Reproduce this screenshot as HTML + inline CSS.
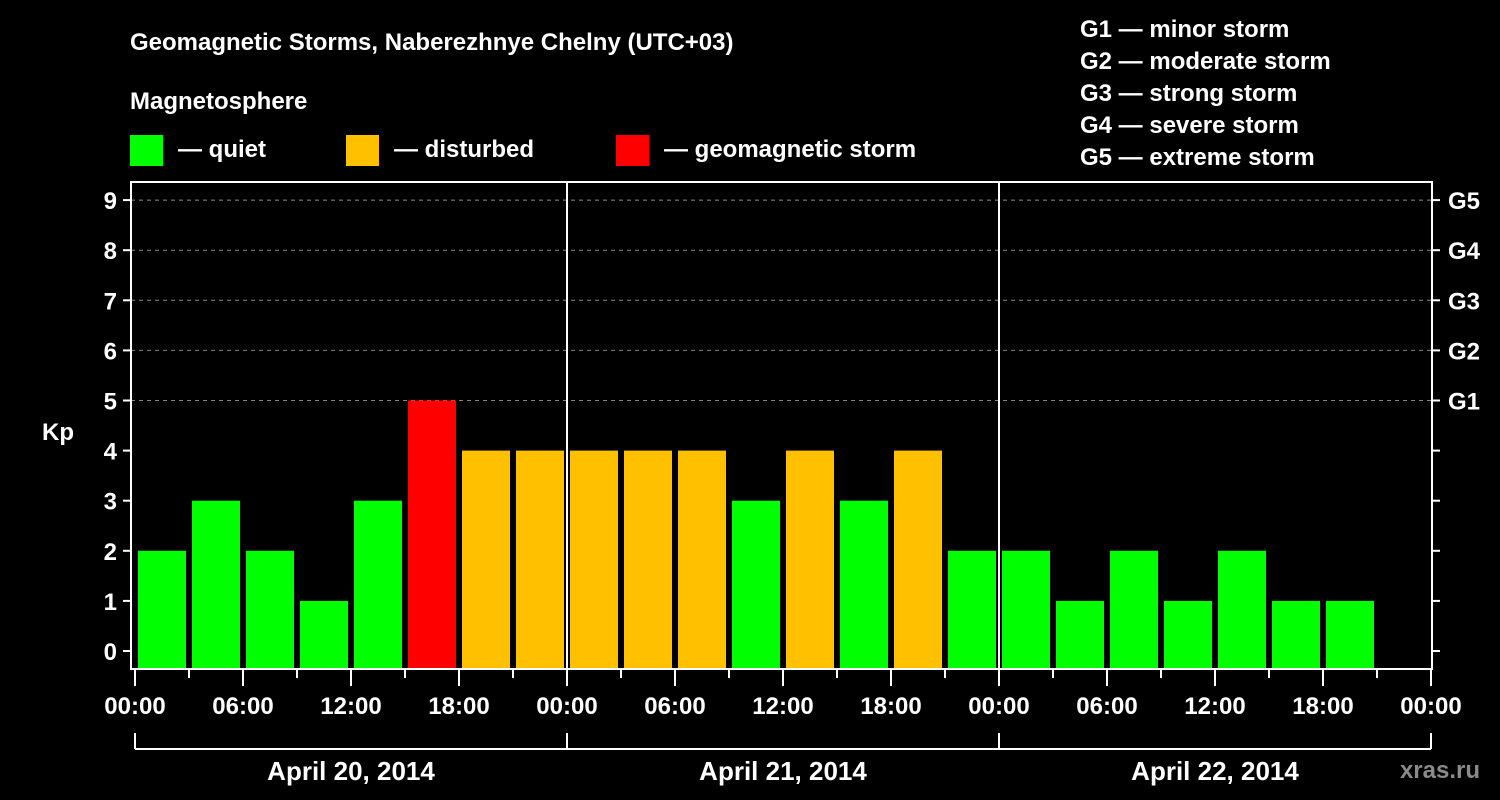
<!DOCTYPE html>
<html><head><meta charset="utf-8"><style>
body{margin:0;background:#000;width:1500px;height:800px;overflow:hidden}
svg{display:block}
text{font-family:"Liberation Sans",Arial,sans-serif;font-weight:bold;fill:#fff}
</style></head><body>
<svg id="c" width="1500" height="800" viewBox="0 0 1500 800">
<text x="130" y="50" font-size="24">Geomagnetic Storms, Naberezhnye Chelny (UTC+03)</text>
<text x="130" y="109" font-size="24">Magnetosphere</text>
<g><rect x="130" y="135" width="33" height="31" fill="#00ff00"/><text x="178" y="157" font-size="24">— quiet</text></g>
<g><rect x="346" y="135" width="33" height="31" fill="#ffc000"/><text x="394" y="157" font-size="24">— disturbed</text></g>
<g><rect x="616" y="135" width="33" height="31" fill="#ff0000"/><text x="664" y="157" font-size="24">— geomagnetic storm</text></g>
<g font-size="24">
<text x="1080" y="37">G1 — minor storm</text>
<text x="1080" y="69">G2 — moderate storm</text>
<text x="1080" y="101">G3 — strong storm</text>
<text x="1080" y="133">G4 — severe storm</text>
<text x="1080" y="165">G5 — extreme storm</text>
</g>
<text x="42" y="440" font-size="24">Kp</text>
<text x="1480" y="778" font-size="24" text-anchor="end" fill="#888" style="fill:#8a8a8a">xras.ru</text>
<g id="grid"></g><g id="bars"></g><g id="axes"></g>
</svg>
<script>
const kpValues=[2,3,2,1,3,5,4,4, 4,4,4,3,4,3,4,2, 2,1,2,1,2,1,1];
const yTicks=[0,1,2,3,4,5,6,7,8,9];
const gLabels=["G1","G2","G3","G4","G5"];
const xLabels=["00:00","06:00","12:00","18:00","00:00","06:00","12:00","18:00","00:00","06:00","12:00","18:00","00:00"];
const dayLabels=["April 20, 2014","April 21, 2014","April 22, 2014"];
const NS="http://www.w3.org/2000/svg";
const L=131,R=1432,T=182,B=669,X0=135,DAY=432;
const y=v=>651-50.1*v;
const x=h=>X0+h*DAY/24;
function mk(p,tag,a){const e=document.createElementNS(NS,tag);for(const k in a)e.setAttribute(k,a[k]);p.appendChild(e);return e;}
const grid=document.getElementById('grid'),bars=document.getElementById('bars'),axes=document.getElementById('axes');
for(let v=5;v<=9;v++){const l=mk(grid,'line',{x1:L,x2:R,y1:y(v),y2:y(v),stroke:'#888','stroke-dasharray':'4,4','stroke-width':1});

}
kpValues.forEach((v,i)=>{const c=v>=5?'#ff0000':v>=4?'#ffc000':'#00ff00';
const r=mk(bars,'rect',{x:x(i*3)+3,y:y(v),width:48,height:B-y(v),fill:c});

});
const f=mk(axes,'rect',{x:L,y:T,width:R-L,height:B-T,fill:'none',stroke:'#fff','stroke-width':2});


for(let d=1;d<3;d++){const l=mk(axes,'line',{x1:x(24*d),x2:x(24*d),y1:T,y2:B,stroke:'#fff','stroke-width':2});

}
yTicks.forEach(v=>{mk(axes,'line',{x1:L-8,x2:L,y1:y(v),y2:y(v),stroke:'#fff','stroke-width':2});
mk(axes,'line',{x1:R,x2:R+8,y1:y(v),y2:y(v),stroke:'#fff','stroke-width':2});
const t=mk(axes,'text',{x:L-14,y:y(v)+9,'font-size':24,'text-anchor':'end'});t.textContent=v;

});
gLabels.forEach((g,i)=>{const t=mk(axes,'text',{x:1448,y:y(5+i)+9,'font-size':24});t.textContent=g;

});
for(let k=0;k<=24;k++){const major=k%2==0;mk(axes,'line',{x1:x(k*3),x2:x(k*3),y1:B,y2:major?686:678,stroke:'#fff','stroke-width':2});}
xLabels.forEach((s,i)=>{const t=mk(axes,'text',{x:x(i*6),y:714,'font-size':24,'text-anchor':'middle'});t.textContent=s;

});
mk(axes,'line',{x1:x(0),x2:x(72),y1:749,y2:749,stroke:'#fff','stroke-width':2});
for(let d=0;d<=3;d++)mk(axes,'line',{x1:x(24*d),x2:x(24*d),y1:733,y2:749,stroke:'#fff','stroke-width':2});
dayLabels.forEach((s,i)=>{const t=mk(axes,'text',{x:x(24*i+12),y:780,'font-size':26,'text-anchor':'middle'});t.textContent=s;

});
</script>
</body></html>
